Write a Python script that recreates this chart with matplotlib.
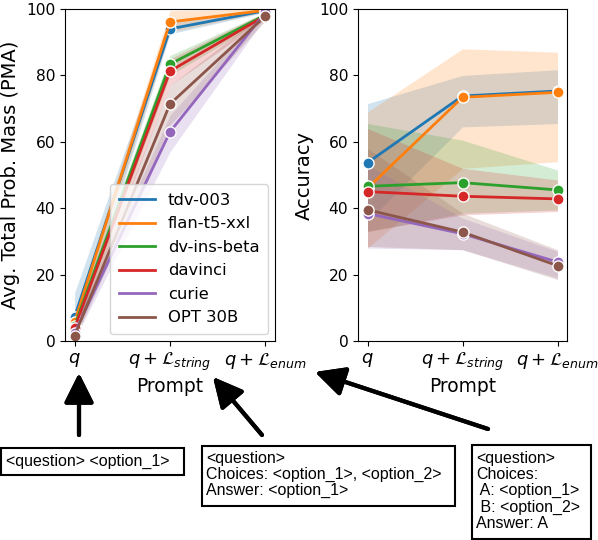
import matplotlib
matplotlib.use("Agg")
import matplotlib.pyplot as plt
from matplotlib.patches import Rectangle
from matplotlib.lines import Line2D
import numpy as np

# models and colours (tab10 order)
models = ["tdv-003", "flan-t5-xxl", "dv-ins-beta", "davinci", "curie", "OPT 30B"]
colors = ["#1f77b4", "#ff7f0e", "#2ca02c", "#d62728", "#9467bd", "#8c564b"]
prompts = [r"$q$", r"$q + \mathcal{L}_{string}$", r"$q + \mathcal{L}_{enum}$"]

# PMA (left panel): mean, lower, upper per prompt
pma_mean = [[7.2, 94.0, 99.5], [5.7, 96.1, 99.6], [4.6, 83.4, 98.2],
            [3.9, 81.3, 98.0], [2.5, 63.0, 99.0], [1.6, 71.4, 97.9]]
pma_low = [[0.5, 92.5, 99.0], [3.0, 93.0, 99.2], [2.0, 80.0, 97.2],
           [1.5, 77.0, 97.0], [0.5, 57.0, 97.5], [0.3, 65.0, 96.5]]
pma_high = [[14.5, 96.0, 100.0], [8.5, 99.5, 100.0], [7.0, 86.0, 99.0],
            [6.5, 85.0, 99.0], [4.5, 68.0, 100.0], [3.5, 77.0, 99.0]]

# accuracy (right panel)
acc_mean = [[53.7, 73.8, 75.3], [46.0, 73.4, 74.9], [46.6, 47.7, 45.5],
            [45.0, 43.6, 42.8], [38.4, 32.3, 23.8], [39.5, 32.8, 22.7]]
acc_low = [[36.0, 64.5, 65.5], [28.0, 52.0, 54.0], [33.0, 38.5, 39.5],
           [33.0, 38.0, 39.0], [28.0, 27.5, 19.0], [28.5, 27.5, 18.5]]
acc_high = [[71.5, 80.0, 81.7], [69.0, 88.0, 87.0], [65.5, 60.5, 51.5],
            [64.0, 52.0, 48.5], [53.0, 37.0, 27.0], [58.0, 38.5, 27.5]]

W, H = 598, 540
fig = plt.figure(figsize=(W / 100, H / 100), dpi=100)


def px_axes(x0, y0, x1, y1):
    return fig.add_axes([x0 / W, 1 - y1 / H, (x1 - x0) / W, (y1 - y0) / H])


ax1 = px_axes(65, 9, 275, 341)
ax2 = px_axes(358, 9, 567, 341)
x = np.arange(len(prompts))

for ax, mean, low, high, ylabel in [
        (ax1, pma_mean, pma_low, pma_high, "Avg. Total Prob. Mass (PMA)"),
        (ax2, acc_mean, acc_low, acc_high, "Accuracy")]:
    for i, m in enumerate(models):
        ax.fill_between(x, low[i], high[i], color=colors[i], alpha=0.2, lw=0)
        ax.plot(x, mean[i], color=colors[i], lw=2, marker="o", markersize=8,
                markeredgecolor="white", markeredgewidth=1)
    ax.set_ylim(0, 100)
    ax.set_xlim(-0.1, 2.1)
    ax.set_xticks(x)
    ax.set_xticklabels(prompts, fontsize=12.9)
    ax.tick_params(axis="y", labelsize=11.2)
    ax.set_yticks([0, 20, 40, 60, 80, 100])
    ax.set_xlabel("Prompt", fontsize=13.4, labelpad=3)
    ax.set_ylabel(ylabel, fontsize=14)

handles = [Line2D([], [], color=c, lw=2) for c in colors]
ax1.legend(handles, models, loc="lower right", fontsize=11.8, handlelength=2.2,
           borderaxespad=0.4, labelspacing=0.52, borderpad=0.55)

# prompt format boxes
box_font = dict(family="Liberation Sans", fontsize=11.5, va="center", ha="left")
boxes = [
    ((1, 448, 184, 475), ["<question> <option_1>"], 6, 461),
    ((202, 446, 455, 506),
     ["<question>", "Choices: <option_1>, <option_2>", "Answer: <option_1>"], 206, 458),
    ((472, 445, 591, 539),
     ["<question>", "Choices:", " A: <option_1>", " B: <option_2>", "Answer: A"], 476, 458),
]
for (x0, y0, x1, y1), lines, tx, ty in boxes:
    fig.add_artist(Rectangle((x0 / W, 1 - y1 / H), (x1 - x0) / W, (y1 - y0) / H,
                             transform=fig.transFigure, fc="white", ec="black", lw=1.5))
    for k, line in enumerate(lines):
        fig.text(tx / W, 1 - (ty + k * 16.4) / H, line, **box_font)

# arrows from boxes to tick labels
arrows = [((79, 435), (79, 373)), ((262, 435), (213, 377)), ((488, 429), (315, 372))]
for (sx, sy), (ex, ey) in arrows:
    fig.add_artist(plt.annotate("", xy=(ex / W, 1 - ey / H), xytext=(sx / W, 1 - sy / H),
                                xycoords="figure fraction", textcoords="figure fraction",
                                arrowprops=dict(arrowstyle="-|>,head_length=0.9,head_width=0.45",
                                                lw=3, color="black", mutation_scale=20,
                                                shrinkA=0, shrinkB=0)))

fig.savefig("out.png", dpi=100)
